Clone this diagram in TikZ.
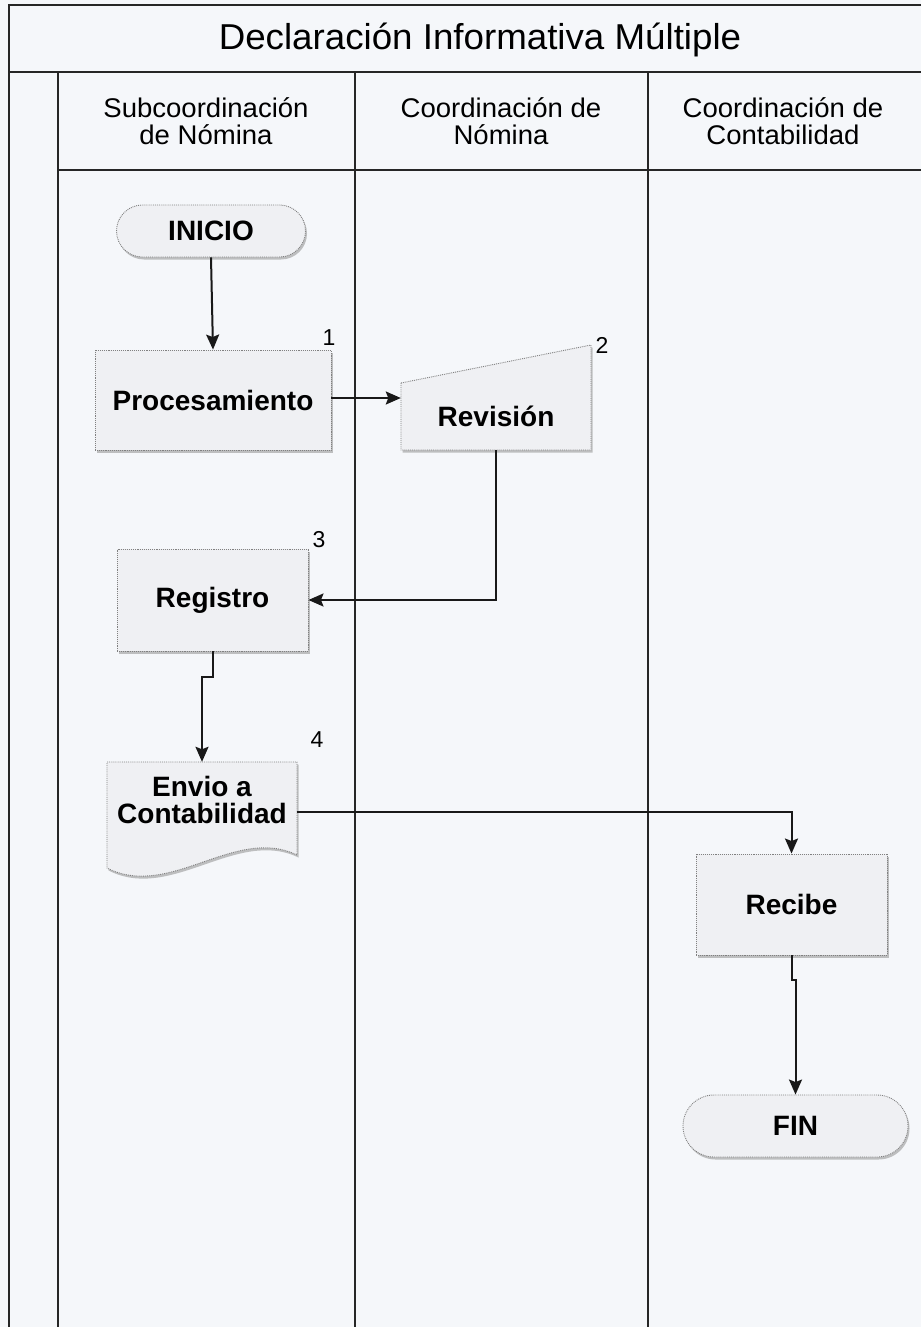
\documentclass[tikz,border=0pt]{standalone}
\usepackage{fontspec}
\setmainfont{Liberation Sans}
\newfontfamily\titlefont[FakeStretch=1.02]{Liberation Sans}
\newfontfamily\lanefont[FakeStretch=1.02]{Liberation Sans}
\newfontfamily\nodefont{Liberation Sans}
\usetikzlibrary{arrows.meta,shadows,calc}
\definecolor{paper}{RGB}{245,247,250}
\definecolor{shapefill}{RGB}{239,240,243}
\begin{document}
\begin{tikzpicture}[x=1pt,y=-1pt,
  frameline/.style={line width=1.4pt, draw=black!85},
  conn/.style={line width=2pt, draw=black!90, -{Stealth[length=15pt,width=13pt,inset=2.5pt]}},
  shapebox/.style={draw=black!50, densely dotted, line width=0.9pt, fill=shapefill,
    drop shadow={shadow xshift=1.5pt, shadow yshift=-2.5pt, fill=black!40, opacity=.6}},
  nodetext/.style={font=\nodefont\bfseries\fontsize{28}{27}\selectfont, align=center, inner sep=0pt},
  proc/.style={shapebox, nodetext},
  term/.style={proc, rounded corners=26pt, minimum width=189pt, minimum height=52pt},
  lanetext/.style={font=\lanefont\fontsize{27}{27}\selectfont, align=center, inner sep=0pt},
  numtext/.style={font=\fontsize{23}{23}\selectfont, inner sep=0pt}
]
\fill[paper] (0,0) rectangle (921,1327);
\useasboundingbox (0,0) rectangle (921,1327);

% frame
\draw[frameline] (921,5) -- (9,5) -- (9,1327);
\draw[frameline] (9,72) -- (921,72);
\draw[frameline] (58,72) -- (58,1327);
\draw[frameline] (355,72) -- (355,1327);
\draw[frameline] (648,72) -- (648,1327);
\draw[frameline] (58,170) -- (921,170);

\node[font=\titlefont\fontsize{36}{36}\selectfont, inner sep=0pt] (title) at (480,40) {Declaración Informativa Múltiple};
\node[lanetext] (h1) at (206,121) {Subcoordinación\\de Nómina};
\node[lanetext] (h2) at (501,121) {Coordinación de\\Nómina};
\node[lanetext] (h3) at (783,121) {Coordinación de\\Contabilidad};

% shapes
\node[term] (inicio) at (211,231) {INICIO};
\node[proc, minimum width=236pt, minimum height=100pt] (proc) at (213,400) {Procesamiento};

\path[shapebox] (401,383) -- (591,345) -- (591,450) -- (401,450) -- cycle;
\node[nodetext, minimum width=190pt, minimum height=67pt] (rev) at (496,416.5) {Revisión};

\node[proc, minimum width=191pt, minimum height=102pt] (reg) at (212.5,600) {Registro};

\path[shapebox] (107,762) -- (297,762) -- (297,855) .. controls (235,825) and (170,900) .. (107,868) -- cycle;
\node[nodetext, minimum width=190pt, minimum height=76pt] (env) at (202,800) {Envio a\\Contabilidad};

\node[proc, minimum width=191pt, minimum height=101pt] (rec) at (791.5,904.5) {Recibe};
\node[term, minimum width=225pt, minimum height=62pt, rounded corners=31pt] (fin) at (795.5,1126) {FIN};

% numbers
\node[numtext] (n1) at (329,338) {1};
\node[numtext] (n2) at (602,345) {2};
\node[numtext] (n3) at (319,540) {3};
\node[numtext] (n4) at (317,740) {4};

% connectors
\draw[conn] (inicio.south) -- (proc.north);
\draw[conn] ([yshift=2pt]proc.east) -- ([yshift=2pt]proc.east -| rev.west);
\draw[conn] (rev.south) -- (rev.south |- reg.east) -- (reg.east);
\draw[conn] (reg.south) -- ++(0,26) -| (env.north);
\draw[conn] ([yshift=-12pt]env.east) -| (rec.north);
\draw[conn] (rec.south) -- ++(0,25) -| (fin.north);
\end{tikzpicture}
\end{document}
